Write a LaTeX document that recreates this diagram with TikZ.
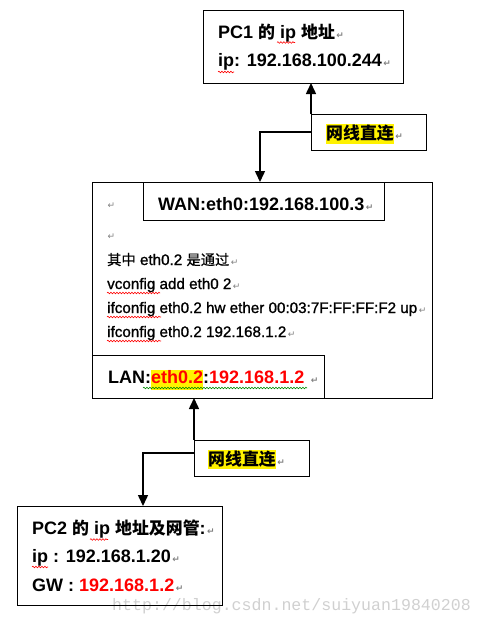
\documentclass[tikz,border=0pt]{standalone}
\usepackage{fontspec}
\setmainfont{Liberation Sans}
\newfontfamily\cjk[Scale=0.94]{Noto Sans CJK SC}
\newfontfamily\midfont[FakeBold=1.2]{Liberation Sans}
\newfontfamily\midcjk[Scale=0.94,FakeBold=0.8]{Noto Sans CJK SC}
\newfontfamily\retfont{DejaVu Sans}
\newfontfamily\wmfont{Liberation Mono}
\usetikzlibrary{arrows.meta,calc,decorations.pathmorphing}
\definecolor{retgray}{gray}{0.5}
\definecolor{wmgray}{RGB}{208,208,208}
\definecolor{squiggreen}{RGB}{0,140,0}
\newcommand\zh[1]{{\cjk #1}}
\newcommand\mzh[1]{{\midcjk #1}}
\newcommand\ret{{\retfont\color{retgray}\fontsize{9}{9}\selectfont\,↵}}
\newcommand\hl[3]{{\setlength\fboxsep{0pt}\colorbox{yellow}{\rule[-#2pt]{0pt}{#3pt}#1}}}
\begin{document}
\begin{tikzpicture}[x=1pt,y=-1pt,
  box/.style={draw, line width=1pt, inner sep=0pt, outer sep=0pt, anchor=north west},
  conn/.style={line width=1.5pt, -{Triangle[length=11pt,width=10pt]}},
  txt/.style={anchor=base west, inner sep=0pt, font=\bfseries\fontsize{18}{18}\selectfont},
  mid/.style={anchor=base west, inner sep=0pt, font=\midfont\fontsize{15.2}{15.2}\selectfont},
  retn/.style={anchor=base west, inner sep=0pt},
  squig/.style={decorate, decoration={snake, segment length=3pt, amplitude=0.8pt}, line width=0.6pt}]
\useasboundingbox (0,0) rectangle (482,624);
% watermark
\node[anchor=base west, inner sep=0pt, font=\wmfont\fontsize{16.6}{16.6}\selectfont, text=wmgray] (wm) at (112,610) {http://blog.csdn.net/suiyuan19840208};
% boxes
\node[box, minimum width=200pt, minimum height=73pt] (pc1) at (203,10) {};
\node[box, minimum width=340pt, minimum height=216pt] (main) at (92,182) {};
\node[box, minimum width=241pt, minimum height=38pt] (wan) at (143,182) {};
\node[box, minimum width=232pt, minimum height=43pt] (lan) at (92,355) {};
\node[box, minimum width=205pt, minimum height=99pt] (pc2) at (17,506) {};
\node[box, minimum width=115pt, minimum height=36pt] (lab1) at (311,114) {};
\node[box, minimum width=115pt, minimum height=36pt] (lab2) at (194,440) {};
% connectors
\coordinate (t1) at (260,0);
\coordinate (t2) at (143,0);
\draw[conn] (lab1.north west) -- (lab1.north west |- pc1.south);
\draw[conn] (lab1.west) -| (t1 |- main.north);
\draw[conn] (lab2.north west) -- (lab2.north west |- main.south);
\draw[conn] ($(lab2.north west)+(0,13)$) -| (t2 |- pc2.north);
% PC1 text
\node[txt] (p1a) at (218,38) {PC1 \zh{的} ip \zh{地址}\ret};
\node[txt] (p1b) at (218,66) {ip: 192.168.100.244\ret};
% labels
\node[txt] (l1) at (326,139) {\hl{\zh{网线直连}}{5}{18}\ret};
\node[txt] (l2) at (208,465) {\hl{\zh{网线直连}}{4}{18}\ret};
% main box text
\node[txt] (wt) at (158,210) {WAN:eth0:192.168.100.3\ret};
\node[retn] (r1) at (106,208) {\ret};
\node[retn] (r2) at (106,239) {\ret};
\node[mid] (m1) at (107,265) {\mzh{其中} eth0.2 \mzh{是通过}\ret};
\node[mid] (m2) at (107,289) {vconfig add eth0 2\ret};
\node[mid] (m3) at (107,313) {ifconfig eth0.2 hw ether 00:03:7F:FF:FF:F2 up\ret};
\node[mid] (m4) at (107,337) {ifconfig eth0.2 192.168.1.2\ret};
\node[txt] (lt) at (108,383) {LAN:\hl{\color{red}eth0.2}{7}{20}:{\color{red}192.168.1.2} \ret};
% PC2 text
\node[txt] (p2a) at (32,534) {PC2 \zh{的} ip \zh{地址及网管}:\ret};
\node[txt] (p2b) at (32,562) {ip : 192.168.1.20\ret};
\node[txt] (p2c) at (32,591) {GW : {\color{red}192.168.1.2}\ret};
% spell-check squiggles
\draw[squig, red] (277,42.5) -- (295,42.5);
\draw[squig, red] (218,72) -- (234,72);
\draw[squig, red] (107,293) -- (160,293);
\draw[squig, red] (107,317) -- (161,317);
\draw[squig, red] (107,341) -- (161,341);
\draw[squig, squiggreen] (143,388) -- (307,388);
\draw[squig, red] (90,539.5) -- (108,539.5);
\draw[squig, red] (32,567) -- (48,567);
\end{tikzpicture}
\end{document}
